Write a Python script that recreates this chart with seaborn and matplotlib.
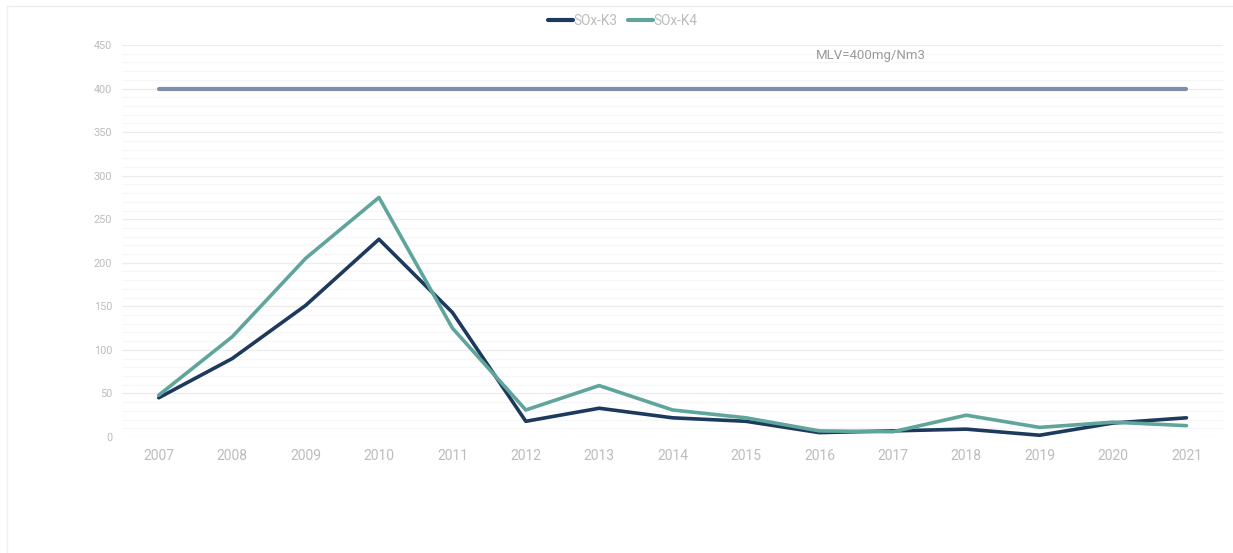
import matplotlib
matplotlib.use("Agg")
import matplotlib.pyplot as plt
import matplotlib.lines as mlines
import seaborn as sns
import pandas as pd
import numpy as np

years = ["2007", "2008", "2009", "2010", "2011", "2012", "2013", "2014",
         "2015", "2016", "2017", "2018", "2019", "2020", "2021"]
sox_k3 = [45, 90, 151, 227, 143, 18, 33, 22, 18, 5, 7, 9, 2, 16, 22]
sox_k4 = [48, 115, 205, 275, 125, 31, 59, 31, 22, 7, 6, 25, 11, 17, 13]
mlv = [400] * len(years)
mlv_label = "MLV=400mg/Nm3"
series_names = ["SOx-K3", "SOx-K4"]
yticks = [0, 50, 100, 150, 200, 250, 300, 350, 400, 450]

sns.set_theme(style="white")
plt.rcParams['font.family'] = ['Roboto', 'DejaVu Sans']

c_k3 = "#1d3a5e"
c_k4 = "#5fa59b"
c_mlv = "#7d8fab"
tick_c = "#bcbcbc"

fig = plt.figure(figsize=(12.33, 5.53), dpi=100)
ax = fig.add_axes([0.099, 0.2098, 0.893, 0.7088])

df = pd.DataFrame({
    "year": years * 2,
    "value": sox_k3 + sox_k4,
    "series": [series_names[0]] * len(years) + [series_names[1]] * len(years),
})
df_mlv = pd.DataFrame({"year": years, "value": mlv})

sns.lineplot(data=df_mlv, x="year", y="value", color=c_mlv, lw=3, ax=ax,
             sort=False, legend=False)
sns.lineplot(data=df, x="year", y="value", hue="series",
             palette=[c_k3, c_k4], lw=2.6, ax=ax, sort=False, legend=False)

ax.set_xlim(-0.5, len(years) - 0.5)
ax.set_ylim(0, 450)
ax.set_yticks(yticks)
ax.set_yticks(np.arange(0, 451, 10), minor=True)
ax.set_xticks(range(len(years)))
ax.set_xticklabels(years)
ax.grid(True, which="major", axis="y", color="#ececec", lw=0.9)
ax.grid(True, which="minor", axis="y", color="#f6f6f6", lw=0.8)
ax.set_axisbelow(True)
for s in ax.spines.values():
    s.set_visible(False)
ax.tick_params(axis="x", which="both", length=0, labelsize=10, colors=tick_c, pad=9)
ax.tick_params(axis="y", which="both", length=0, labelsize=7.8, colors=tick_c, pad=7)
ax.set_xlabel("")
ax.set_ylabel("")

ax.text(9 - 0.05, 438, mlv_label, fontsize=9.5, color="#9a9a9a", va="center", ha="left")

handles = [mlines.Line2D([], [], color=c_k3, lw=3),
           mlines.Line2D([], [], color=c_k4, lw=3)]
fig.legend(handles, series_names, loc="center", bbox_to_anchor=(0.505, 0.962),
           ncol=2, frameon=False, fontsize=9.8, handlelength=1.8,
           handletextpad=0.05, columnspacing=0.8, labelcolor=tick_c)

# faint outer frame
fig.add_artist(mlines.Line2D([7 / 1233, 1], [1 - 6 / 553, 1 - 6 / 553],
                             transform=fig.transFigure, color="#efefef", lw=1))
fig.add_artist(mlines.Line2D([7 / 1233, 7 / 1233], [0, 1 - 6 / 553],
                             transform=fig.transFigure, color="#efefef", lw=1))

fig.savefig("out.png", dpi=100, facecolor="white")
